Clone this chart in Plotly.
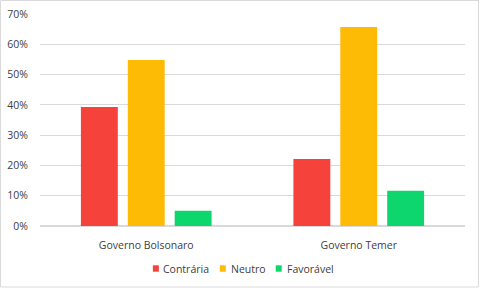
import plotly.graph_objects as go

categories = ["Governo Bolsonaro", "Governo Temer"]
series_names = ["Contrária", "Neutro", "Favorável"]
contraria = [0.393, 0.221]
neutro = [0.548, 0.657]
favoravel = [0.050, 0.116]
colors = ["#F5433C", "#FEBB05", "#0DD66E"]

fig = go.Figure()
for name, vals, c in zip(series_names, [contraria, neutro, favoravel], colors):
    fig.add_trace(go.Bar(x=categories, y=vals, name=name, marker_color=c,
                         marker_line_width=0, showlegend=False))

W, H = 480, 288
L, R, T, B = 40, 14.5, 14, 62
pw, ph = W - L - R, H - T - B


def px(x):
    return (x - L) / pw


def py(y):
    return (H - B - y) / ph


font_fam = "Open Sans, Liberation Sans, sans-serif"
txt_col = "#404040"

# manual compact legend (Excel style)
legend_sq_x = [153, 220, 276]
legend_txt_x = [161.5, 229, 285]
legend_y = 268.5
shapes = [dict(type="rect", xref="paper", yref="paper",
               x0=px(0.5), x1=px(479), y0=py(287), y1=py(0.5),
               line=dict(color="#D9D9D9", width=1), layer="below")]
annotations = []
for name, c, sx, tx in zip(series_names, colors, legend_sq_x, legend_txt_x):
    shapes.append(dict(type="rect", xref="paper", yref="paper",
                       x0=px(sx), x1=px(sx + 6), y0=py(legend_y + 3.2), y1=py(legend_y - 3.2),
                       fillcolor=c, line=dict(width=0)))
    annotations.append(dict(text=name, xref="paper", yref="paper", x=px(tx), y=py(legend_y),
                            xanchor="left", yanchor="middle", showarrow=False,
                            font=dict(family=font_fam, size=10.5, color=txt_col)))

fig.update_layout(
    width=W, height=H,
    margin=dict(l=L, r=R, t=T, b=B),
    paper_bgcolor="white", plot_bgcolor="white",
    barmode="group", bargap=0.338, bargroupgap=0.213,
    showlegend=False,
    font=dict(family=font_fam, size=10, color=txt_col),
    yaxis=dict(range=[0, 0.7], dtick=0.1, tickformat=".0%", gridcolor="#D9D9D9",
               gridwidth=1, zeroline=True, zerolinecolor="#D9D9D9", showline=False,
               tickfont=dict(size=10.5, color=txt_col), ticks="outside", ticklen=9,
               tickcolor="rgba(0,0,0,0)", automargin=False),
    xaxis=dict(showline=False, tickfont=dict(size=10.5, color=txt_col), ticks="outside",
               ticklen=9, tickcolor="rgba(0,0,0,0)", automargin=False),
    shapes=shapes,
    annotations=annotations,
)
fig.write_html("out.html")
